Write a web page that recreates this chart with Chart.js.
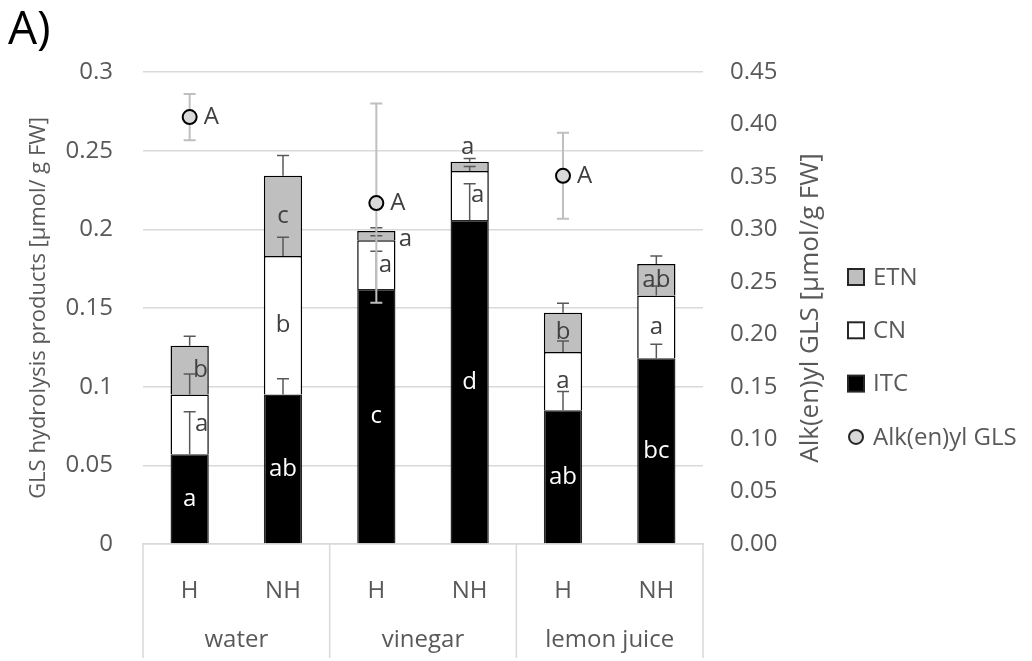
<!DOCTYPE html>
<html>
<head>
<meta charset="utf-8">
<script src="https://cdn.jsdelivr.net/npm/chart.js@4.4.0/dist/chart.umd.min.js"></script>
<style>
  body { margin: 0; background: #fff; }
  #wrap { width: 1032px; height: 661px; }
</style>
</head>
<body>
<div id="wrap"><canvas id="myChart" width="1032" height="661"></canvas></div>
<script>
// values
var subLabels = ["H", "NH", "H", "NH", "H", "NH"];
var groupLabels = ["water", "vinegar", "lemon juice"];

var itc = [0.057, 0.095, 0.162, 0.206, 0.085, 0.118];
var cn = [0.038, 0.088, 0.031, 0.031, 0.037, 0.040];
var etn = [0.031, 0.051, 0.006, 0.006, 0.025, 0.020];
var itcErr = [0.027, 0.010, 0.024, 0.023, 0.012, 0.009];
var cnErr = [0.013, 0.012, 0.003, 0.003, 0.007, 0.006];
var etnErr = [0.006, 0.013, 0.002, 0.002, 0.006, 0.005];

var gls = [0.407, null, 0.325, null, 0.351, null];
var glsErr = [0.022, null, 0.095, null, 0.041, null];

var itcLetters = ["a", "ab", "c", "d", "ab", "bc"];
var cnLetters = ["a", "b", "a", "a", "a", "a"];
var etnLetters = ["b", "c", "a", "a", "b", "ab"];
var glsLetters = ["A", "", "A", "", "A", ""];

var leftTicks = [0, 0.05, 0.1, 0.15, 0.2, 0.25, 0.3];
var rightTicks = [0, 0.05, 0.1, 0.15, 0.2, 0.25, 0.3, 0.35, 0.4, 0.45];

// small pixel nudges for letters that sit beside their segment
var cnNudge = [[12, 0], [0, 0], [9, 0], [8, 0], [0, 0], [0, 0]];
var etnNudge = [[11, 0], [0, 0], [29, 4], [-2, -19], [0, 0], [0, 0]];

var FONT = "'Open Sans', sans-serif";
var GREY = "#595959";
Chart.defaults.font.family = FONT;

var extras = {
  id: "extras",
  beforeDatasetDraw: function(chart, args) {
    if (args.index !== 3) return;
    var ctx = chart.ctx;
    var y = chart.scales.y, y2 = chart.scales.y2;
    var cap = 6;
    ctx.save();
    // bar error bars (upward from each segment top)
    var stacks = [[itc, itcErr], [cn, cnErr], [etn, etnErr]];
    ctx.strokeStyle = GREY;
    ctx.lineWidth = 1.5;
    for (var i = 0; i < subLabels.length; i++) {
      var x = chart.getDatasetMeta(0).data[i].x;
      var base = 0;
      for (var s = 0; s < stacks.length; s++) {
        base += stacks[s][0][i];
        var y0 = y.getPixelForValue(base);
        var y1 = y.getPixelForValue(base + stacks[s][1][i]);
        ctx.beginPath();
        ctx.moveTo(x, y0); ctx.lineTo(x, y1);
        ctx.moveTo(x - cap, y1); ctx.lineTo(x + cap, y1);
        ctx.stroke();
      }
    }
    // GLS error bars
    ctx.strokeStyle = "#bfbfbf";
    ctx.lineWidth = 2;
    for (var j = 0; j < gls.length; j++) {
      if (gls[j] === null) continue;
      var gx = chart.getDatasetMeta(3).data[j].x;
      var top = y2.getPixelForValue(gls[j] + glsErr[j]);
      var bot = y2.getPixelForValue(gls[j] - glsErr[j]);
      ctx.beginPath();
      ctx.moveTo(gx, top); ctx.lineTo(gx, bot);
      ctx.moveTo(gx - cap, top); ctx.lineTo(gx + cap, top);
      ctx.moveTo(gx - cap, bot); ctx.lineTo(gx + cap, bot);
      ctx.stroke();
    }
    ctx.restore();
  },
  afterDraw: function(chart) {
    var ctx = chart.ctx;
    var y = chart.scales.y, y2 = chart.scales.y2, xs = chart.scales.x;
    var area = chart.chartArea;
    ctx.save();
    ctx.font = "24px " + FONT;
    ctx.textAlign = "center";
    ctx.textBaseline = "middle";

    // letters in the bar segments
    var segs = [[itc, itcLetters, null, "#ffffff"], [cn, cnLetters, cnNudge, "#404040"], [etn, etnLetters, etnNudge, "#404040"]];
    for (var i = 0; i < subLabels.length; i++) {
      var x = chart.getDatasetMeta(0).data[i].x;
      var base = 0;
      for (var s = 0; s < segs.length; s++) {
        var v = segs[s][0][i];
        var mid = (y.getPixelForValue(base) + y.getPixelForValue(base + v)) / 2;
        base += v;
        var n = segs[s][2] ? segs[s][2][i] : [0, 0];
        ctx.fillStyle = segs[s][3];
        ctx.fillText(segs[s][1][i], x + n[0], mid + n[1]);
      }
    }
    // GLS letters
    ctx.fillStyle = "#404040";
    ctx.textAlign = "left";
    for (var j = 0; j < gls.length; j++) {
      if (gls[j] === null) continue;
      var p = chart.getDatasetMeta(3).data[j];
      ctx.fillText(glsLetters[j], p.x + 14, y2.getPixelForValue(gls[j]));
    }

    // group labels and dividers under the axis
    ctx.strokeStyle = "#d9d9d9";
    ctx.lineWidth = 1.5;
    var edges = [area.left];
    for (var g = 0; g < groupLabels.length; g++) {
      var a = xs.getPixelForValue(g * 2), b = xs.getPixelForValue(g * 2 + 1);
      edges.push(g < groupLabels.length - 1 ? (b + xs.getPixelForValue(g * 2 + 2)) / 2 : area.right);
      ctx.fillStyle = GREY;
      ctx.textAlign = "center";
      ctx.fillText(groupLabels[g], (a + b) / 2, area.bottom + 96);
    }
    edges.forEach(function(ex) {
      ctx.beginPath();
      ctx.moveTo(ex, area.bottom);
      ctx.lineTo(ex, chart.height - 3);
      ctx.stroke();
    });

    // right axis title, reading bottom to top like the left one
    ctx.save();
    ctx.translate(y2.right - 17, (area.top + area.bottom) / 2);
    ctx.rotate(-Math.PI / 2);
    ctx.font = "26px " + FONT;
    ctx.fillStyle = GREY;
    ctx.textAlign = "center";
    ctx.fillText("Alk(en)yl GLS [µmol/g FW]", 0, 0);
    ctx.restore();

    // panel letter
    ctx.fillStyle = "#000";
    ctx.font = "46px " + FONT;
    ctx.textAlign = "left";
    ctx.textBaseline = "alphabetic";
    ctx.fillText("A)", 8, 44);

    // legend
    var items = [["ETN", "#bfbfbf", "rect"], ["CN", "#ffffff", "rect"], ["ITC", "#000000", "rect"], ["Alk(en)yl GLS", "#d9d9d9", "circle"]];
    ctx.font = "24px " + FONT;
    ctx.textBaseline = "middle";
    items.forEach(function(it, k) {
      var ly = 277 + k * 53.3;
      ctx.fillStyle = it[1];
      ctx.strokeStyle = "#262626";
      ctx.lineWidth = 2;
      if (it[2] === "rect") {
        ctx.fillRect(848, ly - 8, 16, 16);
        ctx.strokeRect(848, ly - 8, 16, 16);
      } else {
        ctx.beginPath();
        ctx.arc(856, ly, 7, 0, Math.PI * 2);
        ctx.fill(); ctx.stroke();
      }
      ctx.fillStyle = GREY;
      ctx.fillText(it[0], 873, ly + 1);
    });
    ctx.restore();
  }
};

var ctx = document.getElementById("myChart");

var myChart = new Chart(ctx, {
  type: "bar",
  data: {
    labels: subLabels,
    datasets: [
      { label: "ITC", data: itc, backgroundColor: "#000000", borderColor: "#262626", borderWidth: 1.5 },
      { label: "CN", data: cn, backgroundColor: "#ffffff", borderColor: "#000000", borderWidth: 1.5 },
      { label: "ETN", data: etn, backgroundColor: "#bfbfbf", borderColor: "#000000", borderWidth: 1.5 },
      {
        type: "line", label: "Alk(en)yl GLS", data: gls, yAxisID: "y2", order: -1,
        showLine: false, pointRadius: 7, pointBorderWidth: 2,
        pointBackgroundColor: "#d9d9d9", pointBorderColor: "#000000"
      }
    ]
  },
  options: {
    responsive: false,
    animation: false,
    layout: { padding: { top: 72, left: 22, right: 204, bottom: 0 } },
    datasets: { bar: { categoryPercentage: 1, barPercentage: 0.41 } },
    plugins: { legend: { display: false }, tooltip: { enabled: false } },
    scales: {
      x: {
        stacked: true,
        grid: { display: false },
        border: { color: "#d9d9d9", width: 1.5 },
        ticks: { color: GREY, font: { size: 24 }, padding: 25, maxRotation: 0, autoSkip: false },
        afterFit: function(s) { s.height = 117; }
      },
      y: {
        stacked: true,
        min: 0, max: 0.3,
        afterBuildTicks: function(s) { s.ticks = leftTicks.map(function(v) { return { value: v }; }); },
        ticks: { color: GREY, font: { size: 24 }, padding: 30, callback: function(v) { return String(parseFloat(v.toFixed(2))); } },
        grid: { color: "#d9d9d9", lineWidth: 1.5, drawTicks: false },
        border: { display: false },
        title: { display: true, text: "GLS hydrolysis products [µmol/ g FW]", color: GREY, font: { size: 22 } },
        afterFit: function(s) { s.width = 121; }
      },
      y2: {
        position: "right",
        min: 0, max: 0.45,
        afterBuildTicks: function(s) { s.ticks = rightTicks.map(function(v) { return { value: v }; }); },
        ticks: { color: GREY, font: { size: 24 }, padding: 27, callback: function(v) { return v.toFixed(2); } },
        grid: { display: false, drawTicks: false },
        border: { display: false },
        afterFit: function(s) { s.width = 125; }
      }
    }
  },
  plugins: [extras]
});
</script>
</body>
</html>
